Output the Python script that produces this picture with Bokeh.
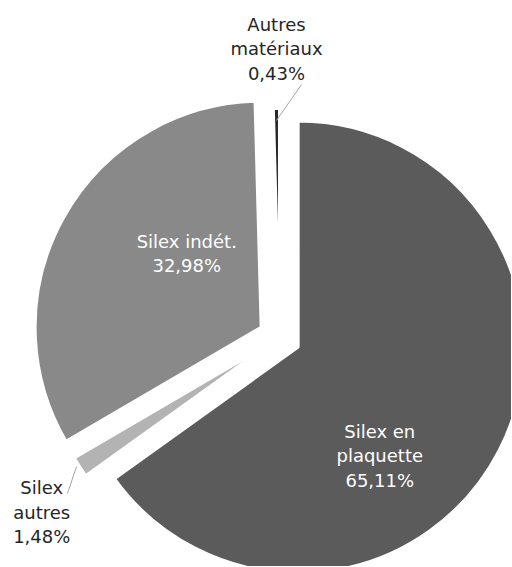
import math
from bokeh.plotting import figure
from bokeh.models import Range1d, ColumnDataSource
from bokeh.core.properties import value
from bokeh.embed import file_html
from bokeh.resources import INLINE

# ---- data ----
categories = ["Silex en plaquette", "Silex autres", "Silex indét.", "Autres matériaux"]
percentages = [65.11, 1.48, 32.98, 0.43]
label_lines = [["Silex en", "plaquette"], ["Silex", "autres"], ["Silex indét."], ["Autres", "matériaux"]]

# ---- styles / layout ----
colors = ["#5b5b5b", "#b3b3b3", "#898989", "#262626"]
explode = [21, 12, 21, 3]
label_polar = [(155, -49.7), (295, 216.3), (125, 137.9), (289, 90.6)]  # (distance, angle deg) from pie centre
label_colors = ["white", "#262626", "white", "#262626"]
leaders = [None, ((77, 467), (68, 494)), None, ((302, 85), (277, 121))]  # page px
FONT = "DejaVu Sans"
FS = "18px"
LINE_H = 24.5

W, H = 511, 566
OX, OY = 1, 1          # apparent page position of the plot frame
PAGE_H = 567
def py(sy):
    return PAGE_H - sy

CX, CY = 280, py(338)
R = 226

p = figure(width=W, height=H, x_range=Range1d(OX, OX + W), y_range=Range1d(PAGE_H - OY - H, PAGE_H - OY),
           output_backend="svg", toolbar_location=None, min_border=0,
           x_axis_location=None, y_axis_location=None, outline_line_color=None)
p.grid.visible = False
p.background_fill_color = "white"
p.border_fill_color = "white"

total = sum(percentages)
xs, ys, starts, ends = [], [], [], []
cum = 0.0
for v, e in zip(percentages, explode):
    a0 = math.pi / 2 - 2 * math.pi * cum / total
    cum += v
    a1 = math.pi / 2 - 2 * math.pi * cum / total
    mid = (a0 + a1) / 2
    xs.append(CX + e * math.cos(mid))
    ys.append(CY + e * math.sin(mid))
    starts.append(a0)
    ends.append(a1)

src = ColumnDataSource(dict(x=xs, y=ys, start=starts, end=ends, color=colors, cat=categories))
p.wedge(x="x", y="y", radius=R, start_angle="start", end_angle="end", direction="clock",
        fill_color="color", line_color="white", line_width=3, source=src)

# leader lines
for ld in leaders:
    if ld is None:
        continue
    (x0, y0), (x1, y1) = ld
    p.segment(x0=[x0], y0=[py(y0)], x1=[x1], y1=[py(y1)], line_color="#a6a6a6", line_width=1)

# labels
tx, ty, tt, tc = [], [], [], []
for lines, v, (d, ang), col in zip(label_lines, percentages, label_polar, label_colors):
    txt = lines + [f"{v:.2f}".replace(".", ",") + "%"]
    cx = CX + d * math.cos(math.radians(ang))
    cy = CY + d * math.sin(math.radians(ang))
    n = len(txt)
    for k, t in enumerate(txt):
        tx.append(cx)
        ty.append(cy + (n - 1) / 2 * LINE_H - k * LINE_H)
        tt.append(t)
        tc.append(col)

p.text(x=tx, y=ty, text=tt, text_color=tc, text_align="center", text_baseline="middle",
       text_font=value(FONT), text_font_size=FS)

open("out.html", "w").write(file_html(p, INLINE))
